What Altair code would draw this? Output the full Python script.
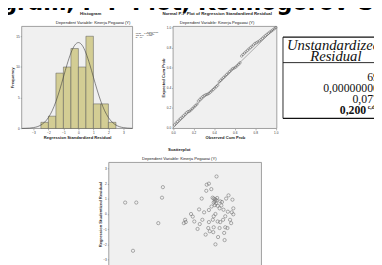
import altair as alt
import pandas as pd

# ---------------- data ----------------
BIG_TITLE = ["Histogram, P-P Plot, Kolmogorov-Smirnov"]
HIST_TITLE = ["Histogram"]
DEP_SUB = ["Dependent Variable: Kinerja Pegawai (Y)"]
PP_TITLE = ["Normal P-P Plot of Regression Standardized Residual"]
SC_TITLE = ["Scatterplot"]
HIST_LEGEND = ["Mean = -1.17E-15", "Std. Dev. = 0.985", "N = 69"]
PP_LEGEND = ["R Sq Linear", "= 0.979"]

BIN_START = [-2.5, -2.0, -1.5, -1.0, -0.5, 0.0, 0.5, 1.0, 1.5, 2.0]
BIN_END = [-2.0, -1.5, -1.0, -0.5, 0.0, 0.5, 1.0, 1.5, 2.0, 2.5]
BIN_COUNT = [1, 2, 9, 10, 13, 10, 15, 4, 4, 1]
CURVE_X = [-3.75, -3.5, -3.25, -3.0, -2.75, -2.5, -2.25, -2.0, -1.75, -1.5, -1.25, -1.0,
           -0.75, -0.5, -0.25, 0.0, 0.25, 0.5, 0.75, 1.0, 1.25, 1.5, 1.75, 2.0, 2.25,
           2.5, 2.75, 3.0, 3.25, 3.5, 3.6]
CURVE_Y = [0.01, 0.03, 0.06, 0.14, 0.28, 0.56, 1.03, 1.78, 2.88, 4.38, 6.25, 8.35,
           10.46, 12.28, 13.53, 13.97, 13.53, 12.28, 10.46, 8.35, 6.25, 4.38, 2.88, 1.78,
           1.03, 0.56, 0.28, 0.14, 0.06, 0.03, 0.02]
HIST_XDOM = [-3.78, 3.61]
HIST_YDOM = [0, 16.6]
HIST_XTICKS = [-3, -2, -1, 0, 1, 2, 3]
HIST_YTICKS = [0, 5, 10, 15]

PP_OBS = [0.014, 0.029, 0.043, 0.058, 0.072, 0.087, 0.101, 0.116, 0.130, 0.145,
          0.159, 0.174, 0.188, 0.203, 0.217, 0.232, 0.246, 0.261, 0.275, 0.290,
          0.304, 0.319, 0.333, 0.348, 0.362, 0.377, 0.391, 0.406, 0.420, 0.435,
          0.449, 0.464, 0.478, 0.493, 0.507, 0.522, 0.536, 0.551, 0.565, 0.580,
          0.594, 0.609, 0.623, 0.638, 0.652, 0.667, 0.681, 0.696, 0.710, 0.725,
          0.739, 0.754, 0.768, 0.783, 0.797, 0.812, 0.826, 0.841, 0.855, 0.870,
          0.884, 0.899, 0.913, 0.928, 0.942, 0.957, 0.971, 0.986, 1.000]
PP_EXP = [0.030, 0.048, 0.062, 0.078, 0.092, 0.106, 0.120, 0.135, 0.150, 0.162,
          0.165, 0.178, 0.192, 0.207, 0.221, 0.236, 0.268, 0.284, 0.298, 0.312,
          0.322, 0.330, 0.334, 0.342, 0.355, 0.368, 0.382, 0.396, 0.410, 0.425,
          0.458, 0.473, 0.488, 0.502, 0.516, 0.531, 0.545, 0.560, 0.575, 0.589,
          0.595, 0.604, 0.618, 0.633, 0.648, 0.715, 0.731, 0.745, 0.758, 0.772,
          0.786, 0.799, 0.812, 0.826, 0.840, 0.848, 0.856, 0.866, 0.878, 0.892,
          0.905, 0.918, 0.930, 0.942, 0.953, 0.964, 0.975, 0.987, 0.998]
PP_REF = [0.0, 1.0]
PP_XDOM = [0.0, 1.01]
PP_YDOM = [-0.006, 1.01]
PP_TICKS = [0.0, 0.2, 0.4, 0.6, 0.8, 1.0]

SC_X = [-3.75, -3.24, -2.02, -2.06, -2.23, -3.39,
        0.44, -0.01, 0.09, 0.20, -0.03, -0.24, 0.26, 0.31, 0.38, 0.44,
        0.36, 0.31, 0.42, 0.36, 0.99, 1.17, 0.69, 0.49, 0.58, 0.76,
        0.09, -0.13, -0.36, 0.96, 1.21, 1.14, 1.21, 0.39, 0.31, -0.73,
        -0.65, -0.58, -1.00, -1.06, -0.97, -0.21, 0.09, 0.27, 0.49, 0.61,
        0.74, 1.06, 1.11, 0.84, 0.94, 0.31, 0.58, 0.06, -0.43, 0.13,
        0.29, -0.06, 0.51, 0.79, 0.81, 0.39, 0.61, 0.47,
        0.66, 0.21, 0.84, -0.33, 0.88]
SC_Y = [0.75, 0.75, 1.76, 1.07, -0.60, -2.41,
        2.46, 1.92, 1.99, 1.63, 1.52, 1.01, 1.07, 1.01, 0.96, 0.90,
        0.83, 0.75, 0.69, 0.58, 1.22, 0.94, 0.79, 0.54, 0.37, 0.28,
        0.26, 0.11, 0.30, 0.15, 0.37, 0.11, -0.02, 0.00, -0.15, 0.00,
        -0.17, -0.49, -0.38, -0.60, -0.53, -0.38, -0.53, -0.38, -0.49, -0.53,
        -0.38, -0.38, -0.60, -0.87, -0.92, -0.87, -0.92, -0.92, -0.98, -1.13,
        -1.19, -1.35, -1.51, -1.24, -1.71, -1.99, 0.83, 1.05,
        0.56, 0.49, -0.15, -0.66, 1.01]
SC_XDOM = [-4.5, 2.5]
SC_YDOM = [-3.4, 3.38]
SC_YTICKS = [-3, -2, -1, 0, 1, 2, 3]

TABLE_HEADER = ["Unstandardized", "Residual"]
TABLE_VALUES = ["69", "0,00000000", "0,077", "0,200"]
TABLE_SUP = ["c,d"]

# ---------------- layout ----------------
W, H = 374, 257
SANS = "Liberation Sans"
SERIF = "Liberation Serif"
PLOT_BG = "#f0f0f0"
FRAME = "#7a7a7a"


def axis(orient, offset, values, title, title_pos, fmt=None):
    kw = dict(orient=orient, offset=offset, values=values, title=title,
              domain=False, grid=False, tickSize=1.5, tickColor="#666", tickWidth=0.5,
              labelFontSize=3.2, labelFont=SANS, labelColor="#333", labelPadding=1,
              labelOverlap=False, labelFlush=False,
              titleFontSize=4.2, titleFont=SANS, titleFontWeight="bold",
              titleColor="#222", titleBaseline="middle")
    if orient == "bottom":
        kw["titleY"] = title_pos
    else:
        kw["titleX"] = title_pos
        kw["titleAngle"] = 270
    if fmt:
        kw["format"] = fmt
    return alt.Axis(**kw)


def label(texts, x, y, size, weight="normal", align="center", font=SANS,
          color="#222", style="normal", baseline="middle"):
    return alt.Chart(pd.DataFrame({"t": texts})).mark_text(
        fontSize=size, fontWeight=weight, align=align, font=font, color=color,
        fontStyle=style, baseline=baseline
    ).encode(x=alt.value(x), y=alt.value(y), text="t:N")


# ---- histogram ----
hx = alt.Scale(domain=HIST_XDOM, range=[14, 127.3], nice=False, zero=False)
hy = alt.Scale(domain=HIST_YDOM, range=[120.3, 16], nice=False)
hxa = axis("bottom", 120.3 - H, HIST_XTICKS, "Regression Standardized Residual", 9.6)
hya = axis("left", -14, HIST_YTICKS, "Frequency", -9.6)

hist_frame = alt.Chart(pd.DataFrame({"x": [HIST_XDOM[0]], "x2": [HIST_XDOM[1]],
                                     "y": [HIST_YDOM[0]], "y2": [HIST_YDOM[1]]})
                       ).mark_rect(fill=PLOT_BG, stroke=FRAME, strokeWidth=0.7).encode(
    x=alt.X("x:Q", scale=hx, axis=hxa), x2="x2:Q",
    y=alt.Y("y:Q", scale=hy, axis=hya), y2="y2:Q")
hist_bars = alt.Chart(pd.DataFrame({"s": BIN_START, "e": BIN_END, "c": BIN_COUNT})
                      ).mark_rect(fill="#d3cd94", stroke="#555", strokeWidth=0.5).encode(
    x=alt.X("s:Q", scale=hx, axis=hxa), x2="e:Q",
    y=alt.Y("c:Q", scale=hy, axis=hya), y2=alt.Y2(datum=0))
hist_curve = alt.Chart(pd.DataFrame({"x": CURVE_X, "y": CURVE_Y})).mark_line(
    color="#3c3c3c", strokeWidth=0.6, interpolate="monotone").encode(
    x=alt.X("x:Q", scale=hx, axis=hxa), y=alt.Y("y:Q", scale=hy, axis=hya))
hist = alt.layer(hist_frame, hist_bars, hist_curve)

# ---- P-P plot ----
px = alt.Scale(domain=PP_XDOM, range=[168.7, 274.7], nice=False, zero=False)
py = alt.Scale(domain=PP_YDOM, range=[120.3, 16], nice=False, zero=False)
pxa = axis("bottom", 120.3 - H, PP_TICKS, "Observed Cum Prob", 9.6, ".1f")
pya = axis("left", -168.7, PP_TICKS, "Expected Cum Prob", -10, ".1f")

pp_frame = alt.Chart(pd.DataFrame({"x": [PP_XDOM[0]], "x2": [PP_XDOM[1]],
                                   "y": [PP_YDOM[0]], "y2": [PP_YDOM[1]]})
                     ).mark_rect(fill=PLOT_BG, stroke=FRAME, strokeWidth=0.7).encode(
    x=alt.X("x:Q", scale=px, axis=pxa), x2="x2:Q",
    y=alt.Y("y:Q", scale=py, axis=pya), y2="y2:Q")
pp_line = alt.Chart(pd.DataFrame({"x": PP_REF, "y": PP_REF})).mark_line(
    color="#8a8a8a", strokeWidth=0.7).encode(
    x=alt.X("x:Q", scale=px, axis=pxa), y=alt.Y("y:Q", scale=py, axis=pya))
pp_pts = alt.Chart(pd.DataFrame({"x": PP_OBS, "y": PP_EXP})).mark_point(
    shape="circle", filled=False, size=6, strokeWidth=0.45, color="#555", opacity=1).encode(
    x=alt.X("x:Q", scale=px, axis=pxa), y=alt.Y("y:Q", scale=py, axis=pya))
pp = alt.layer(pp_frame, pp_line, pp_pts)

# ---- scatter ----
sx = alt.Scale(domain=SC_XDOM, range=[103, 259], nice=False, zero=False)
sy = alt.Scale(domain=SC_YDOM, range=[260.7, 155], nice=False, zero=False)
sya = axis("left", -103, SC_YTICKS, "Regression Studentized Residual", -8)

sc_frame = alt.Chart(pd.DataFrame({"x": [SC_XDOM[0]], "x2": [SC_XDOM[1]],
                                   "y": [SC_YDOM[0]], "y2": [SC_YDOM[1]]})
                     ).mark_rect(fill=PLOT_BG, stroke=FRAME, strokeWidth=0.7).encode(
    x=alt.X("x:Q", scale=sx, axis=None), x2="x2:Q",
    y=alt.Y("y:Q", scale=sy, axis=sya), y2="y2:Q")
sc_pts = alt.Chart(pd.DataFrame({"x": SC_X, "y": SC_Y})).mark_point(
    shape="circle", filled=False, size=11, strokeWidth=0.55, color="#6a6a6a", opacity=1).encode(
    x=alt.X("x:Q", scale=sx, axis=None), y=alt.Y("y:Q", scale=sy, axis=sya))
scatter = alt.layer(sc_frame, sc_pts)

# ---- table ----
def rule(x, y, x2=None, y2=None, width=0.9):
    enc = dict(x=alt.value(x), y=alt.value(y))
    if x2 is not None:
        enc["x2"] = alt.value(x2)
    if y2 is not None:
        enc["y2"] = alt.value(y2)
    return alt.Chart(pd.DataFrame({"a": [0]})).mark_rule(
        color="#111", strokeWidth=width).encode(**enc)

T_LEFT, T_TOP, T_SEP, T_BOT = 281, 27, 53, 110
table = alt.layer(
    rule(T_LEFT, T_TOP, x2=W, width=1.3),
    rule(T_LEFT, T_SEP, x2=W, width=0.9),
    rule(T_LEFT, T_BOT, x2=W, width=1.3),
    rule(T_LEFT, T_TOP, y2=T_BOT, width=0.9),
    label([TABLE_HEADER[0]], 285, 35, 15, align="left", font=SERIF, style="italic", color="#111"),
    label([TABLE_HEADER[1]], 335, 46, 15, font=SERIF, style="italic", color="#111"),
    label([TABLE_VALUES[0]], 379, 67.5, 12, align="right", font=SERIF, color="#111"),
    label([TABLE_VALUES[1]], 379, 79, 12, align="right", font=SERIF, color="#111"),
    label([TABLE_VALUES[2]], 379, 90.5, 12, align="right", font=SERIF, color="#111"),
    label([TABLE_VALUES[3]], 366, 102, 12, weight="bold", align="right", font=SERIF, color="#111"),
    label(TABLE_SUP, 367.5, 98, 6, weight="bold", align="left", font=SERIF, color="#111"),
)

texts = alt.layer(
    label(BIG_TITLE, -74, -0.8, 22.8, weight="bold", align="left", font="DejaVu Sans",
          color="#000", baseline="alphabetic"),
    label(HIST_TITLE, 84.5, 3.6, 4.4, weight="bold"),
    label(DEP_SUB, 87, 12.2, 4.2),
    label(PP_TITLE, 213.7, 3.6, 4.4, weight="bold"),
    label(DEP_SUB, 213.7, 12.2, 4.2),
    label(SC_TITLE, 175, 142.8, 4.4, weight="bold"),
    label(DEP_SUB, 175, 151.5, 4.2),
    label([HIST_LEGEND[0]], 130.5, 22.8, 2.2, align="left"),
    label([HIST_LEGEND[1]], 130.5, 25.0, 2.2, align="left"),
    label([HIST_LEGEND[2]], 130.5, 27.2, 2.2, align="left"),
    label([PP_LEGEND[0]], 142, 21.8, 2.2, align="left"),
    label([PP_LEGEND[1]], 142, 24.0, 2.2, align="left"),
)

chart = alt.layer(hist, pp, scatter, table, texts).resolve_scale(
    x="independent", y="independent").resolve_axis(
    x="independent", y="independent").properties(
    width=W, height=H, padding=0,
    autosize=alt.AutoSizeParams(type="none"),
    background="white").configure_view(strokeWidth=0)

chart.save("out.html", embed_options={"renderer": "svg", "actions": False})
